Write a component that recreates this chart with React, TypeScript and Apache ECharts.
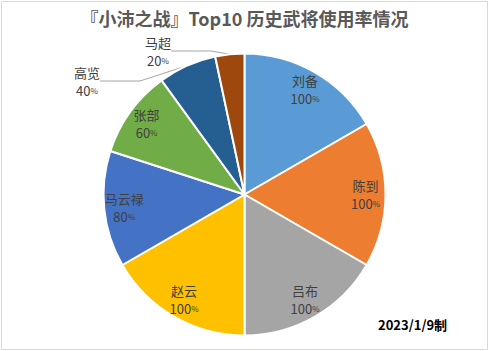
import React, { useEffect, useRef } from "react";
import * as echarts from "echarts";

const titleText = "『小沛之战』Top10 历史武将使用率情况";
const footerText = "2023/1/9制";
const categories = ["刘备", "陈到", "吕布", "赵云", "马云禄", "张部", "高览", "马超"];
const values = [100, 100, 100, 100, 80, 60, 40, 20];
const colors = ["#5B9BD5", "#ED7D31", "#A5A5A5", "#FFC000", "#4472C4", "#70AD47", "#255E91", "#9E480E"];
const outsideNames = ["高览", "马超"];

const FONT = "'Noto Sans CJK SC', 'Noto Sans', sans-serif";

export default function App() {
  const ref = useRef<HTMLDivElement>(null);
  useEffect(() => {
    document.body.style.margin = "0";
    const chart = echarts.init(ref.current!, undefined, { renderer: "svg" });
    const makeRich = (lh: number) => ({
      n: { fontSize: 13, color: "#404040", fontFamily: FONT, lineHeight: lh },
      v: { fontSize: 13, color: "#404040", fontFamily: FONT, lineHeight: lh },
      p: { fontSize: 8, color: "#404040", fontFamily: FONT, lineHeight: lh },
    });
    const data = categories.map((name, i) => ({
      name,
      value: values[i],
      itemStyle: { color: colors[i] },
    }));
    const labelFmt = (p: any) => `{n|${p.name}}\n{v|${p.value}}{p|%}`;
    const outsideLayout: Record<string, any> = {
      "高览": { x: 87, y: 81 },
      "马超": { x: 158, y: 51 },
    };
    chart.setOption({
      animation: false,
      backgroundColor: "#ffffff",
      title: {
        text: titleText,
        left: "center",
        top: 4,
        textStyle: { fontSize: 18, fontWeight: "bold", color: "#595959", fontFamily: FONT },
      },
      graphic: [
        {
          type: "rect",
          shape: { x: 1.5, y: 1.5, width: 486, height: 348 },
          style: { fill: "none", stroke: "#D9D9D9", lineWidth: 1 },
          silent: true,
        },
        {
          type: "text",
          left: 378,
          top: 318,
          style: { text: footerText, fontSize: 13, fontWeight: "bold", fill: "#000000", fontFamily: FONT },
        },
      ],
      series: [
        {
          type: "pie",
          center: [244.5, 194.5],
          radius: [0, 141],
          startAngle: 90,
          clockwise: true,
          data: data.map((d) => ({
            ...d,
            label: { show: outsideNames.includes(d.name) },
            labelLine: { show: outsideNames.includes(d.name) },
          })),
          itemStyle: { borderColor: "#ffffff", borderWidth: 2 },
          label: {
            position: "outside",
            formatter: labelFmt,
            rich: makeRich(18),
            align: "center",
          },
          labelLine: {
            length: 2,
            length2: 40,
            smooth: false,
            lineStyle: { color: "#A6A6A6", width: 1 },
          },
          labelLayout: (params: any) => {
            const pos = outsideLayout[categories[params.dataIndex]];
            if (pos) return { x: pos.x, y: pos.y, align: "center", verticalAlign: "middle" };
            return {};
          },
          emphasis: { disabled: true },
        },
        {
          type: "pie",
          center: [244.5, 194.5],
          radius: [96, 140],
          startAngle: 90,
          clockwise: true,
          silent: true,
          data: data.map((d) => ({
            name: d.name,
            value: d.value,
            label: { show: !outsideNames.includes(d.name) },
          })),
          itemStyle: { color: "rgba(0,0,0,0)", borderWidth: 0 },
          label: {
            position: "inside",
            formatter: labelFmt,
            rich: makeRich(18),
            align: "center",
          },
          labelLine: { show: false },
          emphasis: { disabled: true },
        },
      ],
    });
    return () => chart.dispose();
  }, []);
  return <div ref={ref} style={{ position: "absolute", left: 0, top: 0, width: 489, height: 351 }} />;
}
